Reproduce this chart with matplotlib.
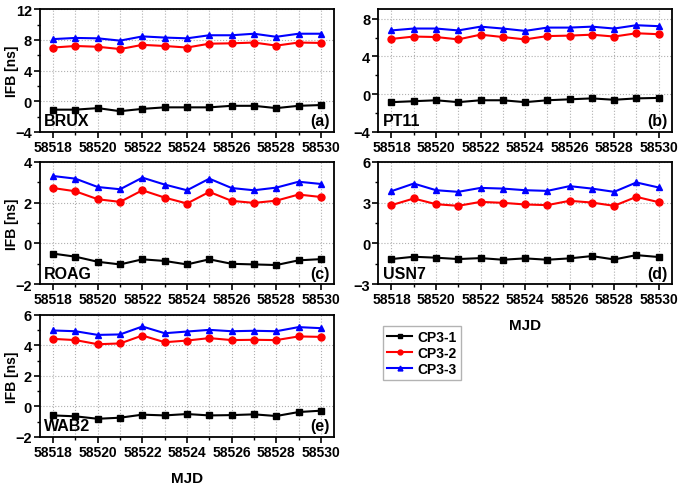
import matplotlib
matplotlib.use("Agg")
import matplotlib.pyplot as plt
from matplotlib.ticker import MultipleLocator

plt.rcParams["font.family"] = ["Liberation Sans", "DejaVu Sans"]
plt.rcParams["font.weight"] = "bold"

mjd = [58518, 58519, 58520, 58521, 58522, 58523, 58524, 58525, 58526, 58527, 58528, 58529, 58530]
series_names = ["CP3-1", "CP3-2", "CP3-3"]

brux_1 = [-1.1, -1.1, -0.9, -1.3, -1.0, -0.8, -0.8, -0.8, -0.6, -0.6, -0.9, -0.6, -0.5]
brux_2 = [7.0, 7.2, 7.1, 6.8, 7.35, 7.2, 7.0, 7.5, 7.55, 7.65, 7.25, 7.65, 7.6]
brux_3 = [8.1, 8.25, 8.2, 7.9, 8.45, 8.3, 8.2, 8.6, 8.6, 8.8, 8.4, 8.8, 8.8]

pt11_1 = [-0.85, -0.75, -0.65, -0.85, -0.65, -0.65, -0.85, -0.65, -0.55, -0.45, -0.6, -0.45, -0.4]
pt11_2 = [5.85, 6.1, 6.05, 5.8, 6.3, 6.05, 5.8, 6.15, 6.2, 6.3, 6.1, 6.45, 6.35]
pt11_3 = [6.75, 6.95, 6.95, 6.75, 7.15, 6.95, 6.7, 7.05, 7.05, 7.15, 6.95, 7.3, 7.2]

roag_1 = [-0.5, -0.65, -0.9, -1.03, -0.78, -0.86, -1.03, -0.78, -1.0, -1.03, -1.06, -0.83, -0.77]
roag_2 = [2.72, 2.56, 2.17, 2.04, 2.61, 2.25, 1.96, 2.53, 2.09, 1.99, 2.1, 2.4, 2.28]
roag_3 = [3.31, 3.18, 2.77, 2.66, 3.23, 2.89, 2.61, 3.18, 2.72, 2.61, 2.74, 3.03, 2.92]

usn7_1 = [-1.15, -0.98, -1.05, -1.15, -1.08, -1.2, -1.1, -1.2, -1.1, -0.93, -1.18, -0.86, -1.0]
usn7_2 = [2.82, 3.31, 2.89, 2.77, 3.06, 2.99, 2.87, 2.82, 3.14, 3.01, 2.77, 3.43, 3.04]
usn7_3 = [3.85, 4.41, 3.92, 3.8, 4.09, 4.04, 3.92, 3.87, 4.22, 4.04, 3.8, 4.49, 4.12]

wab2_1 = [-0.59, -0.65, -0.81, -0.74, -0.54, -0.59, -0.5, -0.59, -0.57, -0.52, -0.63, -0.37, -0.28]
wab2_2 = [4.42, 4.34, 4.07, 4.12, 4.64, 4.2, 4.31, 4.47, 4.34, 4.36, 4.34, 4.58, 4.55]
wab2_3 = [4.97, 4.92, 4.68, 4.71, 5.23, 4.79, 4.9, 5.01, 4.92, 4.95, 4.92, 5.19, 5.12]

panels = [
    ("BRUX", "(a)", [brux_1, brux_2, brux_3], (-4, 12), 4, [0.058, 0.726, 0.430, 0.253]),
    ("PT11", "(b)", [pt11_1, pt11_2, pt11_3], (-4, 9), 4, [0.552, 0.726, 0.429, 0.253]),
    ("ROAG", "(c)", [roag_1, roag_2, roag_3], (-2, 4), 2, [0.058, 0.412, 0.430, 0.252]),
    ("USN7", "(d)", [usn7_1, usn7_2, usn7_3], (-3, 6), 3, [0.552, 0.412, 0.429, 0.252]),
    ("WAB2", "(e)", [wab2_1, wab2_2, wab2_3], (-2, 6), 2, [0.058, 0.097, 0.430, 0.252]),
]

colors = ["black", "red", "blue"]
markers = ["s", "o", "^"]

fig = plt.figure(figsize=(6.85, 4.85), dpi=100)

for i, (station, tag, data, ylim, ystep, pos) in enumerate(panels):
    ax = fig.add_axes(pos)
    for vals, c, m, name in zip(data, colors, markers, series_names):
        ax.plot(mjd, vals, color=c, marker=m, markersize=5, linewidth=1.5, label=name)
    ax.set_xlim(58517.4, 58530.6)
    ax.set_ylim(*ylim)
    ax.xaxis.set_major_locator(MultipleLocator(2))
    ax.xaxis.set_minor_locator(MultipleLocator(1))
    ax.yaxis.set_major_locator(MultipleLocator(ystep))
    ax.yaxis.set_minor_locator(MultipleLocator(ystep / 2))
    ax.grid(which="major", axis="y", color="#b0b0b0", linestyle=":", linewidth=0.8)
    ax.grid(which="both", axis="x", color="#b0b0b0", linestyle=":", linewidth=0.8)
    ax.tick_params(which="major", direction="out", length=4, width=1.2, pad=1.5)
    ax.tick_params(which="minor", direction="out", length=2.5, width=1.0)
    ax.tick_params(axis="x", labelsize=10)
    ax.tick_params(axis="y", labelsize=10.5)
    for sp in ax.spines.values():
        sp.set_linewidth(1.3)
    for lab in ax.get_xticklabels() + ax.get_yticklabels():
        lab.set_fontweight("bold")
    ax.text(0.015, 0.03, station, transform=ax.transAxes, fontsize=11.5, fontweight="bold", ha="left", va="bottom")
    ax.text(0.985, 0.03, tag, transform=ax.transAxes, fontsize=11.5, fontweight="bold", ha="right", va="bottom")
    if i % 2 == 0:
        ax.set_ylabel("IFB [ns]", fontsize=10, fontweight="bold")
        ax.yaxis.set_label_coords(-0.071, 0.5)
    if i >= 3:
        ax.set_xlabel("MJD", fontsize=11, fontweight="bold", labelpad=9)
    if i == 0:
        handles, labels = ax.get_legend_handles_labels()

fig.legend(handles, labels, loc="upper left", bbox_to_anchor=(0.549, 0.341),
           frameon=True, fancybox=False, edgecolor="#a0a0a0",
           handlelength=1.8, handletextpad=0.4, borderpad=0.3, labelspacing=0.15,
           markerscale=0.7, prop={"weight": "bold", "size": 10})

fig.savefig("out.png", dpi=100)
